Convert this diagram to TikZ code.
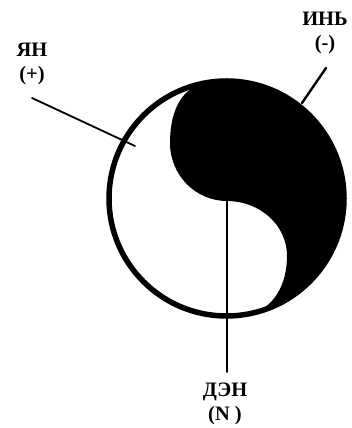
\documentclass[tikz,border=0pt]{standalone}
\usepackage{fontspec}
\setmainfont{Liberation Serif}
\usetikzlibrary{positioning}

\begin{document}
\begin{tikzpicture}[x=1pt, y=1pt, line cap=round, line join=round,
    lbl/.style={font=\bfseries\fontsize{20.5}{24}\selectfont, align=center, inner sep=0pt},
    lead/.style={line width=1.8pt}]
    \useasboundingbox (0,0) rectangle (351,428);

    % Centre of the symbol and ends of the S
    \coordinate (c) at (226.5,229.5);
    \coordinate (stop) at (205.0,345.0);
    \coordinate (sbot) at (246.9,113.8);

    % Black half (yin)
    \fill (stop) arc[start angle=101, end angle=-80, radius=117.5]
        to[out=10, in=-90] (287,172)
        to[out=90, in=0] (227,227)
        to[out=180, in=-90] (170,285)
        to[out=90, in=192] (stop) -- cycle;

    % Outer ring
    \draw[line width=5.5pt] (c) circle[radius=117.5];

    % Labels
    \node[lbl] (yan) at (32,364) {ЯН\\(+)};
    \node[lbl] (yin) at (325,395) {ИНЬ\\(-)};
    \node[lbl] (den) at (225,24) {ДЭН\\(N )};

    % Leader lines
    \coordinate (yanA) at (32,330);
    \coordinate (yanB) at (135,282);
    \coordinate (yinA) at (326,360);
    \coordinate (yinB) at (302,325);
    \coordinate (denA) at (227,228);
    \coordinate (denB) at (227,56);
    \draw[lead] (yanA) -- (yanB);
    \draw[lead, line width=2.4pt] (yinA) -- (yinB);
    \draw[lead, line width=1.6pt] (denA) -- (denB);

\end{tikzpicture}
\end{document}
